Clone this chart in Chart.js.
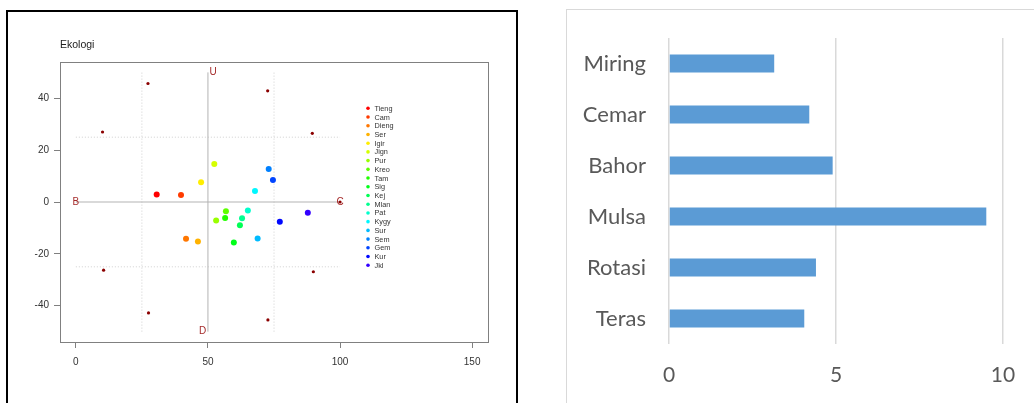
<!DOCTYPE html>
<html>
<head>
<meta charset="utf-8">
<script src="https://cdn.jsdelivr.net/npm/chart.js"></script>
<style>
  html, body { margin: 0; padding: 0; background: #fff; }
  body { width: 1034px; height: 403px; position: relative; overflow: hidden; font-family: "Liberation Sans", Arial, sans-serif; }
  #leftFrame { position: absolute; left: 6px; top: 10px; width: 508px; height: 420px; border: 2px solid #000; }
  #rightFrame { position: absolute; left: 566px; top: 9px; width: 480px; height: 420px; border: 1px solid #d9d9d9; }
  #ecoTitle { position: absolute; left: 60px; top: 38px; font-size: 10.5px; color: #222; }
  #ecoChart { position: absolute; left: 0; top: 0; }
  #barChart { position: absolute; left: 567px; top: 10px; }
</style>
</head>
<body>
<div id="leftFrame"></div>
<div id="rightFrame"></div>
<canvas id="ecoChart" width="520" height="403"></canvas>
<div id="ecoTitle">Ekologi</div>
<canvas id="barChart" width="467" height="393"></canvas>
<script>
// --- left: Ekologi scatter ---
const siteNames = ['Tieng', 'Cam', 'Dieng', 'Ser', 'Igir', 'Jign', 'Pur', 'Kreo', 'Tam', 'Sig',
  'Kej', 'Mlan', 'Pat', 'Kygy', 'Sur', 'Sem', 'Gem', 'Kur', 'Jkl'];
const siteX = [30.6, 39.8, 41.7, 46.2, 47.4, 52.4, 53.1, 56.8, 56.5, 59.8,
  62.1, 62.9, 65.1, 67.8, 68.8, 73.0, 74.6, 77.2, 87.8];
const siteY = [2.9, 2.7, -14.2, -15.2, 7.6, 14.7, -7.1, -3.6, -6.2, -15.6,
  -9.0, -6.3, -3.3, 4.2, -14.1, 12.7, 8.5, -7.6, -4.1];

const outerX = [27.3, 72.6, 10.1, 89.5, 10.5, 89.9, 27.5, 72.7, 100];
const outerY = [45.7, 42.9, 27.0, 26.5, -26.3, -26.9, -42.8, -45.5, 0];

const compassLabels = ['B', 'C', 'U', 'D'];
const compassX = [0, 100, 52, 48];
const compassY = [0, 0, 50, -50];

const vertLineX = [50, 50];
const vertLineY = [-50, 50];
const horzLineX = [0, 100];
const horzLineY = [0, 0];
const dottedX = [25, 75];   // vertical dotted lines, y from -50 to 50
const dottedY = [-25, 25];  // horizontal dotted lines, x from 0 to 100

const ecoXTicks = [0, 50, 100, 150];
const ecoYTicks = [-40, -20, 0, 20, 40];

// --- right: bar chart ---
const practices = ['Miring', 'Cemar', 'Bahor', 'Mulsa', 'Rotasi', 'Teras'];
const scores = [3.15, 4.2, 4.9, 9.5, 4.4, 4.05];

const siteColors = siteNames.map((_, i) => `hsl(${i * 14}, 100%, 50%)`);
const toPoints = (xs, ys) => xs.map((x, i) => ({ x, y: ys[i] }));

const lineSet = (data, dash, color) => ({
  data,
  showLine: true,
  borderColor: color,
  borderWidth: 1,
  borderDash: dash,
  pointRadius: 0,
  order: 2,
});

const ecoDatasets = [
  lineSet(toPoints(vertLineX, vertLineY), [], '#b3b3b3'),
  lineSet(toPoints(horzLineX, horzLineY), [], '#b3b3b3'),
  ...dottedX.map(x => lineSet(toPoints([x, x], [-50, 50]), [1, 2], '#d0d0d0')),
  ...dottedY.map(y => lineSet(toPoints([0, 100], [y, y]), [1, 2], '#d0d0d0')),
  {
    data: toPoints(outerX, outerY),
    backgroundColor: '#8b0000',
    borderWidth: 0,
    pointRadius: 1.6,
    order: 1,
  },
  {
    data: toPoints(siteX, siteY),
    backgroundColor: siteColors,
    borderWidth: 0,
    pointRadius: 3,
    order: 0,
  },
];

const ecoExtras = {
  id: 'ecoExtras',
  afterDraw(chart) {
    const { ctx, chartArea: a, scales: { x, y } } = chart;
    ctx.save();
    // plot box
    ctx.strokeStyle = '#808080';
    ctx.lineWidth = 1;
    ctx.strokeRect(a.left + 0.5, a.top + 0.5, a.right - a.left, a.bottom - a.top);

    // compass labels
    ctx.fillStyle = '#a52a2a';
    ctx.font = '10px "Liberation Sans", Arial, sans-serif';
    ctx.textAlign = 'center';
    ctx.textBaseline = 'middle';
    compassLabels.forEach((t, i) => {
      ctx.fillText(t, x.getPixelForValue(compassX[i]), y.getPixelForValue(compassY[i]));
    });

    // legend
    ctx.font = '7.3px "Liberation Sans", Arial, sans-serif';
    ctx.textAlign = 'left';
    siteNames.forEach((name, i) => {
      const ly = 108.3 + i * 8.72;
      ctx.fillStyle = siteColors[i];
      ctx.beginPath();
      ctx.arc(368, ly, 1.8, 0, Math.PI * 2);
      ctx.fill();
      ctx.fillStyle = '#333';
      ctx.fillText(name, 374.5, ly + 0.5);
    });
    ctx.restore();
  },
};

new Chart(document.getElementById('ecoChart'), {
  type: 'scatter',
  data: { datasets: ecoDatasets },
  options: {
    responsive: false,
    animation: false,
    layout: { padding: { left: 0, top: 62, right: 32, bottom: 0 } },
    plugins: { legend: { display: false }, tooltip: { enabled: false } },
    scales: {
      x: {
        min: -6,
        max: 156,
        afterBuildTicks: s => { s.ticks = ecoXTicks.map(v => ({ value: v })); },
        afterFit: s => { s.height = 61; },
        grid: { drawOnChartArea: false, color: '#808080', tickLength: 6 },
        border: { display: false },
        ticks: { color: '#333', padding: 8, font: { size: 10, family: '"Liberation Sans", Arial' } },
      },
      y: {
        min: -54,
        max: 54,
        afterBuildTicks: s => { s.ticks = ecoYTicks.map(v => ({ value: v })); },
        afterFit: s => { s.width = 60; },
        grid: { drawOnChartArea: false, color: '#808080', tickLength: 6 },
        border: { display: false },
        ticks: { color: '#333', padding: 5, font: { size: 10, family: '"Liberation Sans", Arial' } },
      },
    },
  },
  plugins: [ecoExtras],
});

new Chart(document.getElementById('barChart'), {
  type: 'bar',
  data: {
    labels: practices,
    datasets: [{
      data: scores,
      backgroundColor: '#5b9bd5',
      categoryPercentage: 1,
      barPercentage: 0.353,
    }],
  },
  options: {
    indexAxis: 'y',
    responsive: false,
    animation: false,
    layout: { padding: { left: 0, top: 28, right: 31, bottom: 0 } },
    plugins: { legend: { display: false }, tooltip: { enabled: false } },
    scales: {
      x: {
        min: 0,
        max: 10,
        ticks: { stepSize: 5, color: '#595959', padding: 19, font: { size: 21, family: 'Lato' } },
        afterFit: s => { s.height = 59; s.paddingLeft = 0; s.paddingRight = 0; },
        grid: { color: '#d9d9d9', lineWidth: 1.5, drawTicks: false },
        border: { display: false },
      },
      y: {
        afterFit: s => { s.width = 102; s.paddingTop = 0; s.paddingBottom = 0; },
        grid: { display: false, drawTicks: false },
        border: { display: false },
        ticks: { color: '#595959', padding: 23, font: { size: 22, family: 'Lato' } },
      },
    },
  },
});
</script>
</body>
</html>
